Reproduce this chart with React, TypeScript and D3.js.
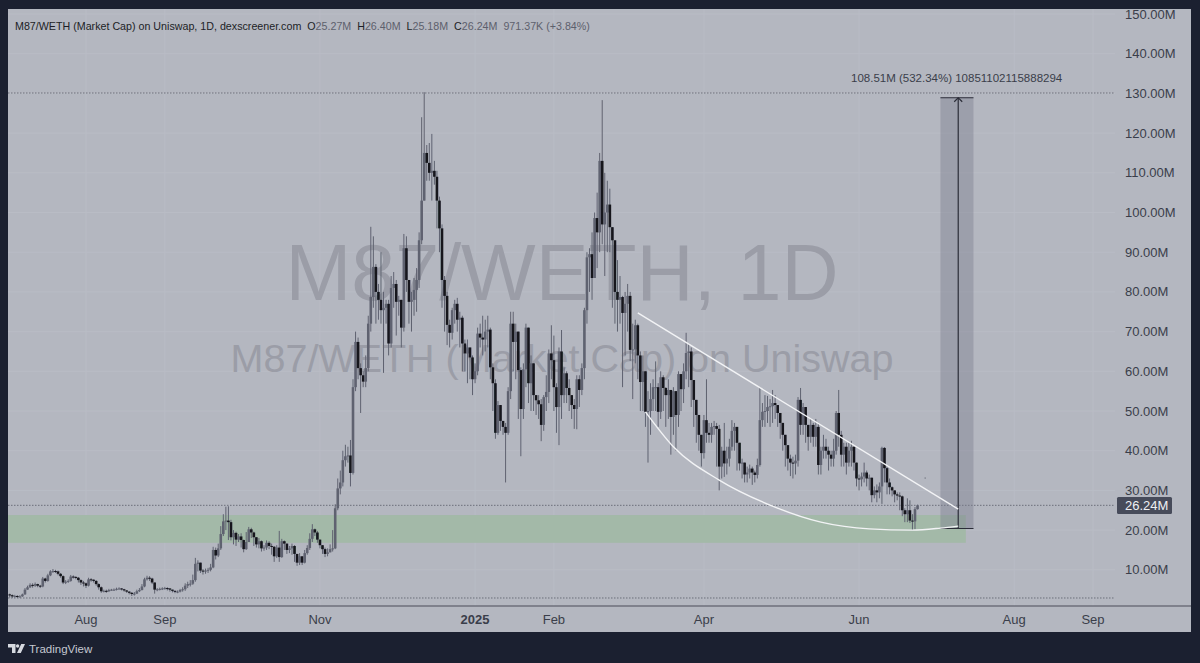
import * as d3 from 'd3';

const closes = [
  3.6,3.3,3.4,3.2,3.3,3.8,5.0,5.6,6.2,6.0,
  6.4,6.0,5.8,7.8,7.2,8.6,9.6,9.7,9.6,9.0,
  8.4,6.8,7.0,7.2,8.3,8.2,8.0,7.4,6.8,6.6,
  6.0,7.6,7.5,7.2,6.4,5.6,4.6,4.7,4.6,4.9,
  5.0,5.0,5.2,5.3,5.1,4.8,4.5,4.2,3.9,4.0,
  4.6,4.9,5.8,7.6,8.0,7.8,6.8,5.0,5.1,5.2,
  5.3,5.4,5.3,5.0,4.7,4.5,4.5,4.9,5.1,6.0,
  6.4,6.5,7.4,11.5,11.8,9.8,9.6,9.8,10.0,10.6,
  15.0,13.6,15.4,19.0,22.2,22.4,22.0,18.2,19.3,17.6,
  18.4,17.5,15.2,17.0,20.2,19.4,18.2,16.4,17.2,15.4,
  15.6,16.8,16.0,15.8,13.4,15.6,13.2,17.2,16.6,15.0,
  15.4,16.0,14.0,11.8,13.4,11.8,14.2,15.5,17.8,20.2,
  19.4,17.6,16.2,15.2,14.0,14.4,15.2,15.4,25.5,30.5,
  32,37.6,38.6,38.8,34.4,56,67.4,60.8,59,57.4,
  60.8,72,78.7,86.3,80,78,75.4,76,77,67,
  81,82,77.5,78,71,91,83,77.5,78,80.5,
  83,93,103,115,112.5,110,110.5,109,103,96,
  83,79,71.7,69.7,75.4,77,73,73.5,67,64.5,
  66,63.5,58,60,69.5,68.5,68,70,70.5,61,
  57,44.5,51.5,47.5,46,44.5,55,72,67.4,70,
  60.3,50.5,60.5,71,57,62,54,52.7,51.7,46.5,
  53.5,54.8,64.5,62.8,56,51,65,54,59.5,55.8,
  54,51.5,50.5,58,55.3,60.8,75.4,88.7,89.5,83.5,
  98.6,95,113,97,100,102,96.3,93,80,78,
  78.7,74.7,77,79,65.4,65.5,71.6,64,57.3,60,
  49.8,50,53,56,56,49.8,58.5,55.8,54,55.3,
  48.5,55,49,59.3,55.5,60,64.6,65,57.8,52.8,
  49,44,39.4,47.7,44.5,44,46,46.2,45.5,36,
  40,36.8,38,41,45,46,42,36.8,37,34,
  34.5,35.5,34.5,33.9,36.4,47.7,49.8,50,51,51.2,
  52,51.5,49.5,47,44,41.4,38,37,36.8,37.5,
  52.8,46.5,51,46.5,43.5,46.5,43.5,46,36.4,40,
  41,40,39,38,40,49.5,44,39,41,37,
  40,41,37,33,32.8,33.5,34.5,33,33.2,28.8,
  30,29.5,31,40.7,35.6,32,30.8,30,29,28.7,
  28.5,25,24,25,22.4,22.2,25.27,26.24,
];

const highs = [
  4.0,3.8,3.7,3.6,3.6,4.0,5.4,6.0,6.6,6.6,
  6.8,6.5,6.2,8.2,8.0,9.0,9.9,10.2,10.0,9.8,
  9.2,8.6,7.4,7.6,8.7,8.6,8.4,8.2,7.6,7.2,
  6.8,8.0,7.9,7.6,7.4,6.6,5.8,5.0,5.0,5.2,
  5.2,5.3,5.5,5.6,5.4,5.2,4.9,4.6,4.4,4.4,
  5.0,5.4,6.4,8.0,8.5,8.4,8.0,6.8,5.4,5.5,
  5.6,5.7,5.6,5.4,5.0,4.8,4.8,5.2,5.6,6.6,
  7.0,7.4,8.8,13.0,12.4,11.2,10.2,10.3,10.5,11.5,
  15.8,15.6,16.6,21.0,24.0,25.9,26.0,22.6,20.0,19.6,
  19.0,19.2,17.6,19.5,20.8,20.6,19.6,18.0,18.0,17.4,
  16.2,17.4,17.2,16.6,16.0,16.2,19.8,17.8,17.4,16.4,
  16.0,16.6,16.2,14.0,14.2,13.4,15.0,16.2,19.2,21.5,
  20.4,19.8,17.6,16.2,15.6,15.4,16.4,20,26.5,33,
  35,40,41.5,41,42.7,58,70,68.5,62,60,
  64,74,96.4,94,87,82,90,80,78,78,
  84,85,83,79,78,94.6,94,80,80,83.5,
  86,95,124,130.3,117,117.5,119.8,113,110.5,104,
  97,84,80,73,76,78,78.5,75,74,68,
  68,66,64,62,71,72,74,73,74,71,
  62,58,52.5,50,47.5,47,56,75,75,72,
  66,61,62,72,71,64,62,54,54,53,
  54,59,65.5,71.6,69,57,66,70.4,61,60,
  58,54,53,59,59,62,76,90,91,95,
  100,105,115,128.3,110,108,106,96,91,88,
  84,79,80,82,80,72,73,72,65,64,
  60,55,57,58,62.5,57,60,59,56,58,
  55,56,55,60,58,62,69.7,67,66,56,
  51,47,41,49,58,47,47,47.5,47,46.5,
  41,47,41,43,47.7,47,44,42,38,37,
  36,36.5,36,35,38,56,52,54,53.8,53,
  55.3,54,51,48,45,42,40,39,38.5,39,
  53.5,55.8,52,48,46,48,47,48,47,41,
  44,43,41,40,43,50,55.3,45,42,42,
  42,42.5,41,37,34,34.5,37,35,34,33,
  31,31.5,32,41,40.9,36,33,31,30,29.5,
  29.5,28.7,25.5,28,27.5,24,25.8,26.4,
];

const lows = [
  3.0,2.9,3.0,2.9,3.0,3.2,3.7,5.0,5.4,5.5,
  5.7,5.6,5.4,5.6,6.8,7.0,8.4,9.2,9.2,8.6,
  8.0,6.4,6.4,6.7,7.0,7.8,7.6,6.8,6.2,5.8,
  5.4,5.8,7.0,6.8,6.0,5.0,4.2,4.3,4.2,4.4,
  4.7,4.7,4.8,5.0,4.8,4.5,4.2,3.8,3.4,3.5,
  3.9,4.4,4.8,5.6,7.3,7.2,6.4,4.0,4.6,4.8,
  4.9,5.0,4.8,4.5,4.3,4.1,4.1,4.3,4.5,4.7,
  5.4,5.8,6.2,7.0,9.6,9.2,8.8,9.0,9.2,9.6,
  10.4,12.6,13.2,15,18.5,20,17.5,17.4,16.4,16.0,
  17.0,15.6,14.4,15.0,17.0,18.0,16.0,15.6,15.4,14.6,
  14.8,15.0,15.2,13.8,12.0,13.0,12.0,13.0,15.0,14.0,
  14.2,13.8,12.0,11.0,11.2,11.2,11.6,13.8,15.0,17.0,
  18.5,16.8,15.4,14.0,13.2,13.4,14.4,14.6,15.2,25,
  29,31,36,37,31,34,55,58,49.5,56,
  56,60,70,76,72,73,72,59.6,72,64,
  66,76,69,74,66,70,80,72,70,74,
  75,81,92,105,108,108,103,107,96,90,
  76,70,66.6,66,68,72,70,66,60,60,
  57,58,54,57,59,66,64,65,66,58,
  50,43,44,45,44,32,44,53,60,58,
  48,38.6,48,56,52,50,50,49,48,42.4,
  45,50,52,58,50,44.5,41.4,48,52,52,
  50,48,45.5,45.4,51,54,58,72,80,78,
  84,86,90,92,84,90,90,76,72,70,
  72,56,64,70,62.6,53,62,58,50,50,
  46,37,44,50,50,46,48,50,46,48,
  39,44,40,46,50,52,58,56,51,46,
  42,40,36,38,42,42,42,44,36,30,
  33,33.4,34,36,40,40,35,35,33,32,
  32,33,31.4,32,33,36,46,46,47,46,
  47,48,46,43,40,36,35,33.6,33,34,
  36,44,44,42,40,42,41,41,34,34,
  38,38,35,36,36,39,41,36,36,34,
  36,36,35,31,30,31,32,31,30,27,
  28,27,28,26.6,32,29,29,28.5,27,27.5,
  25,23.5,22,22,21.8,20,20.2,25.18,
];

const firstOpen = 3.8;
const firstDay = new Date(2024, 6, 2);

const priceTicks = [10, 20, 30, 40, 50, 60, 70, 80, 90, 100, 110, 120, 130, 140, 150];
const timeTicks: [string, string][] = [
  ['Aug', '2024-08-01'],
  ['Sep', '2024-09-01'],
  ['Nov', '2024-11-01'],
  ['2025', '2025-01-01'],
  ['Feb', '2025-02-01'],
  ['Apr', '2025-04-01'],
  ['Jun', '2025-06-01'],
  ['Aug', '2025-08-01'],
  ['Sep', '2025-09-01'],
];
const dottedLevels = [130.1, 26.24, 2.9];

// drawings on the chart, [date, price in M]
const upperLine: [string, number][] = [['2025-03-06', 74.7], ['2025-07-10', 25.3]];
const lowerCurve: [string, number][] = [
  ['2025-03-09', 49.8],
  ['2025-03-20', 41],
  ['2025-04-07', 32.6],
  ['2025-04-27', 26.3],
  ['2025-05-17', 22],
  ['2025-06-05', 20.3],
  ['2025-06-22', 20],
  ['2025-07-03', 20.5],
  ['2025-07-10', 21],
];
const zoneDates = ['2024-07-02', '2025-07-13'];
const zonePrices = [16.8, 23.8];
const measureDates = ['2025-07-03', '2025-07-10', '2025-07-16'];
const measurePrices = [20.4, 128.9];
const strayDot: [string, number] = ['2025-06-27', 33.1];

const W = 1200;
const H = 663;
const panel = { left: 8, right: 1191, top: 9, bottom: 632 };
const axisY = 606;
const dottedEnd = 1115;
const FONT = '"Liberation Sans", Arial, sans-serif';

const bg = '#1b2030';
const paper = '#b4b7c0';
const gridC = '#b9bcc5';
const upC = '#5f6270';
const downC = '#14151c';
const labelC = '#3a3e4a';
const waterC = '#9b9da7';

const parse = (s: string) => new Date(+s.slice(0, 4), +s.slice(5, 7) - 1, +s.slice(8, 10));

const x = d3
  .scaleTime()
  .domain([parse('2024-08-01'), parse('2025-09-01')])
  .range([86, 1093]);
const y = d3.scaleLinear().domain([0, 150]).range([609.5, 14]);

const candles = closes.map((c, i) => {
  const o = i === 0 ? firstOpen : closes[i - 1];
  return {
    date: d3.timeDay.offset(firstDay, i),
    o,
    c,
    h: Math.max(highs[i], o, c),
    l: Math.min(lows[i], o, c),
  };
});

const straight = d3
  .line<[string, number]>()
  .x((d) => x(parse(d[0])))
  .y((d) => y(d[1]));
const curved = d3
  .line<[string, number]>()
  .x((d) => x(parse(d[0])))
  .y((d) => y(d[1]))
  .curve(d3.curveMonotoneX);

const legendValues: [string, string][] = [
  ['O', '25.27M'],
  ['H', '26.40M'],
  ['L', '25.18M'],
  ['C', '26.24M'],
];

export default function App() {
  const mx0 = x(parse(measureDates[0]));
  const mx1 = x(parse(measureDates[1]));
  const mx2 = x(parse(measureDates[2]));
  const my0 = y(measurePrices[1]);
  const my1 = y(measurePrices[0]);
  const zx0 = Math.max(panel.left, x(parse(zoneDates[0])) - 2);

  return (
    <svg
      width={W}
      height={H}
      viewBox={`0 0 ${W} ${H}`}
      style={{ position: 'absolute', left: 0, top: 0, display: 'block' }}
      fontFamily={FONT}
    >
      <defs>
        <filter id="soft" x="0" y="0" width="100%" height="100%">
          <feGaussianBlur stdDeviation="0.3" />
        </filter>
      </defs>
      <rect width={W} height={H} fill={bg} />
      <rect
        x={panel.left}
        y={panel.top}
        width={panel.right - panel.left}
        height={panel.bottom - panel.top}
        fill={paper}
      />

      {/* grid */}
      {timeTicks.map(([, d]) => (
        <line key={d} x1={x(parse(d))} x2={x(parse(d))} y1={panel.top} y2={axisY} stroke={gridC} />
      ))}
      {priceTicks.map((p) => (
        <line key={p} x1={panel.left} x2={dottedEnd} y1={y(p)} y2={y(p)} stroke={gridC} />
      ))}

      {/* watermark */}
      <text x={562} y={300} textAnchor="middle" fontSize={79} fill={waterC}>
        M87/WETH, 1D
      </text>
      <text x={562} y={372} textAnchor="middle" fontSize={39.5} fill={waterC}>
        M87/WETH (Market Cap) on Uniswap
      </text>

      {/* support zone */}
      <rect
        x={zx0}
        y={y(zonePrices[1])}
        width={x(parse(zoneDates[1])) - zx0}
        height={y(zonePrices[0]) - y(zonePrices[1])}
        fill="#a3b9a8"
      />

      {dottedLevels.map((p) => (
        <line
          key={p}
          x1={panel.left}
          x2={dottedEnd}
          y1={y(p)}
          y2={y(p)}
          stroke="#6c6f7a"
          strokeDasharray="1.5 1.5"
        />
      ))}

      {/* measure box */}
      <rect x={mx0} y={my0} width={mx2 - mx0} height={my1 - my0} fill="#7c7e8e" fillOpacity={0.42} />
      <line x1={mx0} x2={mx2} y1={my0} y2={my0} stroke="#2b2d38" strokeWidth={1.2} />
      <line x1={mx0} x2={mx2} y1={my1} y2={my1} stroke="#2b2d38" strokeWidth={1.2} />
      <line x1={mx1} x2={mx1} y1={my0} y2={my1} stroke="#2b2d38" strokeWidth={1.2} />
      <path
        d={`M${mx1 - 4} ${my0 + 4} L${mx1} ${my0} L${mx1 + 4} ${my0 + 4}`}
        fill="none"
        stroke="#2b2d38"
        strokeWidth={1.2}
      />
      <text x={851} y={82} fontSize={11.5} fill={labelC}>
        108.51M (532.34%) 10851102115888294
      </text>

      {/* candles */}
      <g filter="url(#soft)">
        {candles.map((d, i) => {
          const up = d.c >= d.o;
          const color = up ? upC : downC;
          const cx = x(d.date);
          const top = y(Math.max(d.o, d.c));
          const bottom = y(Math.min(d.o, d.c));
          return (
            <g key={i} fill={color}>
              <line x1={cx} x2={cx} y1={y(d.h)} y2={y(d.l)} stroke={upC} strokeWidth={1} />
              <rect x={cx - 1.3} y={top} width={2.6} height={Math.max(bottom - top, 1)} />
            </g>
          );
        })}
      </g>

      {/* trend lines */}
      <path d={straight(upperLine) ?? ''} fill="none" stroke="#f2f3f5" strokeWidth={1.4} />
      <path d={curved(lowerCurve) ?? ''} fill="none" stroke="#f2f3f5" strokeWidth={1.4} />
      <circle cx={x(parse(strayDot[0]))} cy={y(strayDot[1])} r={0.8} fill="#7d808b" />

      {/* axes */}
      <line x1={panel.left} x2={panel.right} y1={axisY} y2={axisY} stroke="#4a4d59" strokeWidth={1.2} />
      {timeTicks.map(([label, d]) => (
        <text
          key={d}
          x={x(parse(d))}
          y={624}
          textAnchor="middle"
          fontSize={13}
          fontWeight={label === '2025' ? 700 : 400}
          fill={labelC}
        >
          {label}
        </text>
      ))}
      {priceTicks.map((p) => (
        <text key={p} x={1125} y={y(p) + 4.5} fontSize={13} fill={labelC}>
          {d3.format('.2f')(p)}M
        </text>
      ))}
      <rect x={1117} y={497} width={55} height={17} rx={1.5} fill="#474b5a" />
      <text x={1125} y={y(26.24) + 4.5} fontSize={13} fill="#eef0f3">
        {d3.format('.2f')(closes[closes.length - 1])}M
      </text>

      {/* legend */}
      <text x={15} y={30} fontSize={10.7} fill="#1c1e26" xmlSpace="preserve">
        M87/WETH (Market Cap) on Uniswap, 1D, dexscreener.com{'  '}
        {legendValues.map(([k, v]) => (
          <tspan key={k}>
            <tspan fill="#1c1e26">{k}</tspan>
            <tspan fill="#5d606c">{v}{'  '}</tspan>
          </tspan>
        ))}
        <tspan fill="#5d606c">971.37K (+3.84%)</tspan>
      </text>

      {/* logo */}
      <g fill="#d6d9df">
        <path d="M8 644h7.5v9H12v-5.5H8z" />
        <circle cx={17.6} cy={646} r={1.7} />
        <path d="M25 644l-4.2 9h-3.8l4.2-9z" />
      </g>
      <text x={29} y={653} fontSize={11.5} fill="#c4c8d0">
        TradingView
      </text>
    </svg>
  );
}
